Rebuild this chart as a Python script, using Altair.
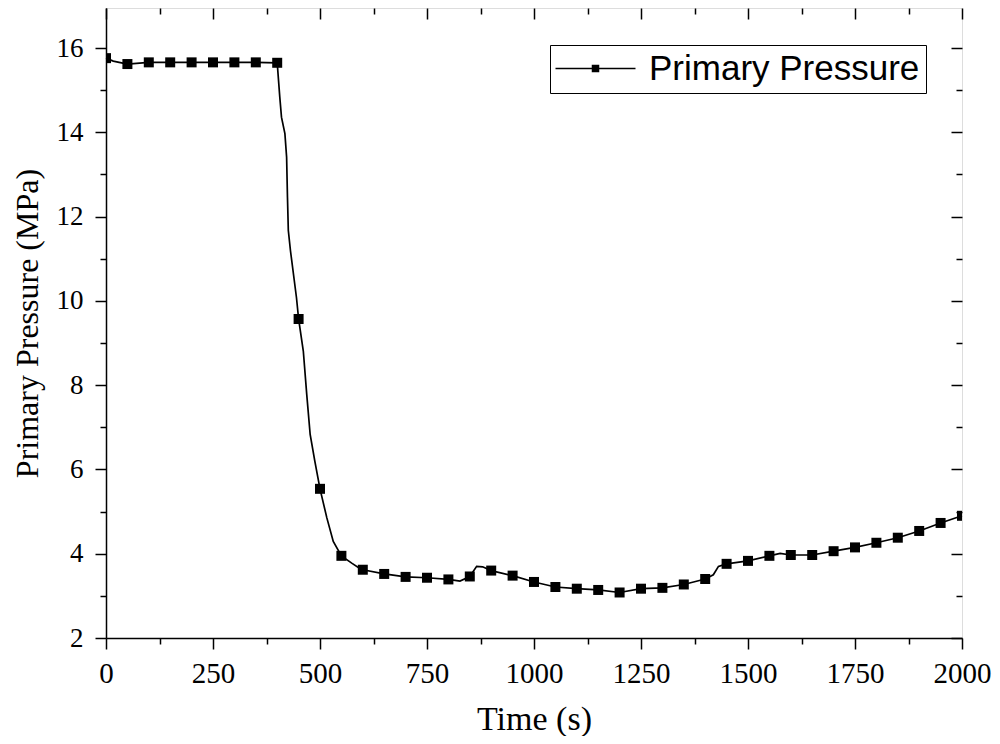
import altair as alt
import pandas as pd

# ---- data ----
marker_time = list(range(0, 2001, 50))
marker_pressure = [
    15.76, 15.62, 15.66, 15.66, 15.66, 15.66, 15.66, 15.66, 15.65, 9.57,
    5.54, 3.95, 3.62, 3.52, 3.45, 3.43, 3.39, 3.46, 3.60, 3.48,
    3.33, 3.21, 3.17, 3.14, 3.08, 3.17, 3.19, 3.27, 3.40, 3.76,
    3.83, 3.95, 3.97, 3.97, 4.06, 4.15, 4.26, 4.38, 4.54, 4.73,
    4.90,
]
extra_time = [17, 406, 410, 418, 422, 424, 426, 431, 445, 461, 469, 477, 488,
              516, 531, 575, 593, 827, 866, 880, 1419, 1431, 1575]
extra_pressure = [15.69, 14.84, 14.36, 13.97, 13.41, 12.46, 11.67, 11.19, 10.08,
                  8.81, 7.78, 6.83, 6.19, 4.85, 4.29, 3.77, 3.65, 3.35, 3.70,
                  3.69, 3.50, 3.70, 4.01]
series_name = "Primary Pressure"

x_major = list(range(0, 2001, 250))
x_minor = list(range(125, 2000, 250))
y_major = list(range(2, 17, 2))
y_minor = list(range(3, 16, 2))

line_df = pd.DataFrame({
    "time": marker_time + extra_time,
    "pressure": marker_pressure + extra_pressure,
}).sort_values("time")
marker_df = pd.DataFrame({
    "time": marker_time,
    "pressure": marker_pressure,
    "series": [series_name] * len(marker_time),
})

W, H = 856, 630
SERIF = "Liberation Serif"
SANS = "Liberation Sans"

xs = alt.Scale(domain=[0, 2000], nice=False, zero=False)
ys = alt.Scale(domain=[2, 16.95], nice=False, zero=False)


def ax(orient, values, size, labels=False, title="", offset=0, domain=False):
    kw = dict(
        orient=orient, values=values, tickSize=size, tickWidth=1.5,
        tickColor="black", grid=False, labels=labels, domain=domain,
        domainColor="black", domainWidth=1.5, title=title, offset=offset,
        format="d",
    )
    if labels:
        kw.update(labelFont=SERIF, labelColor="black", labelFlush=False,
                  labelOverlap=False)
        if orient == "bottom":
            kw.update(labelFontSize=29, labelPadding=10)
        else:
            kw.update(labelFontSize=27, labelPadding=12)
    if title:
        kw.update(titleFont=SERIF, titleColor="black", titleFontWeight="normal")
        if orient == "bottom":
            kw.update(titleFontSize=34, titlePadding=14)
        else:
            kw.update(titleFontSize=32, titlePadding=12)
    return alt.Axis(**kw)


line = alt.Chart(line_df).mark_line(color="black", strokeWidth=1.7).encode(
    x=alt.X("time:Q", scale=xs, axis=ax("bottom", x_major, 11, labels=True,
                                        title="Time (s)", domain=True)),
    y=alt.Y("pressure:Q", scale=ys, axis=ax("left", y_major, 11, labels=True,
                                            title="Primary Pressure (MPa)", domain=True)),
)

legend = alt.Legend(
    title=None, orient="none", legendX=444, legendY=37,
    strokeColor="black", fillColor="white", padding=6,
    labelFont=SANS, labelFontSize=35, labelColor="black", labelOffset=58,
    labelLimit=500,
    symbolType="M-1.8,0L6.2,0M1.9,-0.3L2.5,-0.3L2.5,0.3L1.9,0.3Z",
    symbolSize=400, symbolStrokeWidth=1.5,
    symbolFillColor="black", symbolStrokeColor="black",
)

points = alt.Chart(marker_df).mark_point(
    shape="square", filled=True, size=100, opacity=1, clip=True
).encode(
    x=alt.X("time:Q", scale=xs, axis=ax("bottom", x_minor, 6)),
    y=alt.Y("pressure:Q", scale=ys, axis=ax("left", y_minor, 6)),
    color=alt.Color("series:N", scale=alt.Scale(range=["black"]), legend=legend),
)

top_right_major = alt.Chart(marker_df).mark_point(opacity=0).encode(
    x=alt.X("time:Q", scale=xs, axis=ax("bottom", x_major, 11, offset=-H)),
    y=alt.Y("pressure:Q", scale=ys, axis=ax("left", y_major, 11, offset=-W)),
)

top_right_minor = alt.Chart(marker_df).mark_point(opacity=0).encode(
    x=alt.X("time:Q", scale=xs, axis=ax("bottom", x_minor, 6, offset=-H)),
    y=alt.Y("pressure:Q", scale=ys, axis=ax("left", y_minor, 6, offset=-W)),
)

chart = alt.layer(line, points, top_right_major, top_right_minor).resolve_axis(
    x="independent", y="independent"
).properties(
    width=W, height=H,
    autosize=alt.AutoSizeParams(type="none"),
    padding={"left": 98, "top": 0, "right": 30, "bottom": 98},
).configure_view(
    stroke="black", strokeWidth=1.5
).configure_axis(
    labelFont=SERIF, titleFont=SERIF
).configure(background="white")

chart.save("out.html", embed_options={"renderer": "svg", "actions": False})
